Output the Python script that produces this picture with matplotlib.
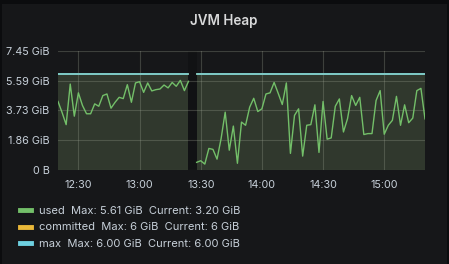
import matplotlib
matplotlib.use("Agg")
import matplotlib.pyplot as plt
import matplotlib.dates as mdates
from matplotlib.lines import Line2D
from matplotlib.patches import Rectangle
import pandas as pd

# ---- data (GiB) ----
used_left = [4.29, 3.60, 2.84, 5.38, 3.37, 4.83, 4.04, 3.52, 3.52, 4.14, 3.99,
             4.66, 4.76, 3.87, 4.24, 4.55, 4.47, 5.34, 4.24, 5.45, 5.53, 4.86,
             5.45, 4.95, 5.03, 5.07, 5.32, 5.14, 5.48, 5.24, 5.61, 4.97, 5.55]
used_right = [0.48, 0.58, 0.37, 1.35, 1.29, 0.68, 1.97, 3.62, 1.24, 2.75, 0.42,
              3.00, 2.80, 3.93, 4.49, 3.66, 3.83, 4.76, 4.83, 5.48, 4.80, 4.10,
              5.45, 1.04, 3.42, 3.83, 0.87, 2.80, 2.84, 4.08, 1.10, 4.29, 1.93,
              2.01, 3.99, 4.45, 2.38, 3.21, 4.66, 4.04, 4.55, 2.22, 2.28, 2.28,
              4.35, 4.97, 2.24, 2.80, 3.11, 4.61, 2.80, 4.08, 2.96, 3.25, 4.97,
              5.11, 3.20]
committed_value = 6.0
max_value = 6.0
start_left = "2023-01-01 12:20"
start_right = "2023-01-01 13:28"
step = "2min"

yticks = [0, 1.86, 3.73, 5.59, 7.45]
ytick_labels = ["0 B", "1.86 GiB", "3.73 GiB", "5.59 GiB", "7.45 GiB"]
series_names = ["used", "committed", "max"]
legend_stats = ["Max: 5.61 GiB  Current: 3.20 GiB",
                "Max: 6 GiB  Current: 6 GiB",
                "Max: 6.00 GiB  Current: 6.00 GiB"]
colors = ["#73bf69", "#eab839", "#6ed0e0"]
title = "JVM Heap"

t_left = pd.date_range(start_left, periods=len(used_left), freq=step)
t_right = pd.date_range(start_right, periods=len(used_right), freq=step)

plt.rcParams['font.family'] = ['Inter', 'DejaVu Sans']

fig = plt.figure(figsize=(4.49, 2.64), dpi=100)
fig.patch.set_facecolor("#0b0c0e")
fig.patches.append(Rectangle((2 / 449, 0), 445 / 449, 260 / 264, transform=fig.transFigure,
                             facecolor="#161719", edgecolor="none", zorder=-10))

ax = fig.add_axes([58 / 449, 1 - 170 / 264, 367 / 449, 119 / 264])
ax.set_facecolor("none")

for t, u in [(t_left, used_left), (t_right, used_right)]:
    ax.fill_between(t, 0, [max_value] * len(t), color="#5f7352", alpha=0.36,
                    lw=0, zorder=1)
    ax.plot(t, [committed_value] * len(t), color=colors[1], lw=1.2, zorder=3)
    ax.plot(t, [max_value] * len(t), color=colors[2], lw=1.2, zorder=4)
    ax.plot(t, u, color=colors[0], lw=1.0, zorder=5)

# dark gap between the two segments
ax.axvspan(t_left[-1], t_right[0], color="#111214", lw=0, zorder=0.5)

ax.set_xlim(t_left[0], t_right[-1])
ax.set_ylim(0, 7.45)
ax.set_yticks(yticks)
ax.set_yticklabels(ytick_labels)
ax.xaxis.set_major_locator(mdates.MinuteLocator(byminute=[0, 30]))
ax.xaxis.set_major_formatter(mdates.DateFormatter("%H:%M"))
ax.grid(True, color="#9aa090", alpha=0.3, lw=0.8, zorder=2)
ax.set_axisbelow(False)
for s in ax.spines.values():
    s.set_visible(False)
ax.tick_params(axis="both", length=0, colors="#c7d0d9", labelsize=7.8)
ax.tick_params(axis="y", pad=6)
ax.tick_params(axis="x", pad=7)

fig.text(224 / 449, 1 - 21 / 264, title, ha="center", va="center",
         color="#d8d9da", fontsize=9.7, fontweight="semibold")

handles = [Line2D([], [], color=c, lw=3.5) for c in colors]
labels = [f"{n}  {s}" for n, s in zip(series_names, legend_stats)]
leg = fig.legend(handles, labels, loc="upper left",
                 bbox_to_anchor=(10 / 449, 1 - 196 / 264), frameon=False,
                 handlelength=0.95, handletextpad=0.75, labelspacing=0.58,
                 fontsize=8.0, labelcolor="#c7d0d9")

fig.savefig("out.png", dpi=100, facecolor=fig.get_facecolor())
